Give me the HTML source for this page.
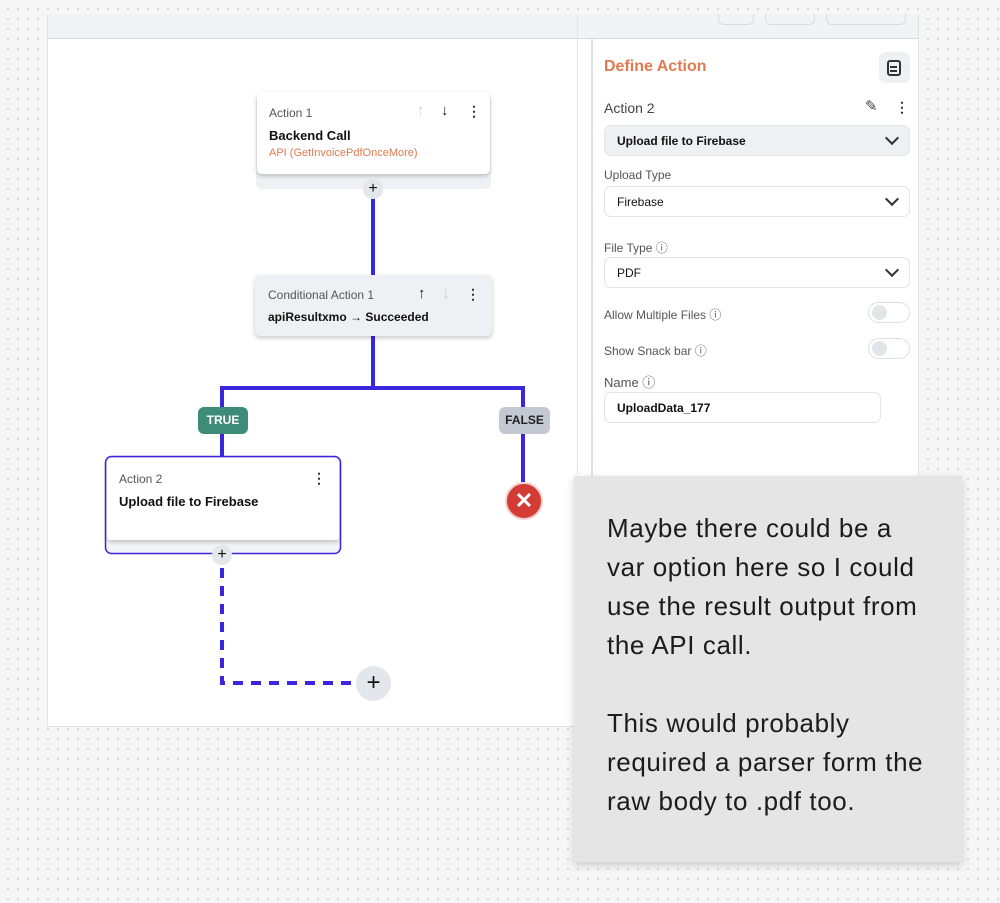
<!DOCTYPE html>
<html><head><meta charset="utf-8"><style>
*{margin:0;padding:0;box-sizing:border-box}
body{width:1000px;height:903px;overflow:hidden;position:relative;font-family:"Liberation Sans",sans-serif;
background-color:#f6f6f6;background-image:radial-gradient(circle,#d6d6d6 1px,transparent 1.3px);background-size:10px 10px;background-position:3px 4px}
.a{position:absolute}
.frame{left:47px;top:15px;width:872px;height:712px;background:#fff;border:1px solid #e3e3e3}
.hdr{left:48px;top:15px;width:870px;height:24px;background:#f1f3f6;border-bottom:1px solid #d8dbe0}
.card{position:absolute;background:#fff;border-radius:5px;box-shadow:0 2px 5px rgba(0,0,0,.22)}
.sm{font-size:12px;color:#555}
.b{font-weight:bold;font-size:13px;color:#111}
.lbl{font-size:12px;color:#555}
.sel{position:absolute;left:604px;width:306px;height:31px;border:1px solid #e2e4e8;border-radius:7px;background:#fff;font-size:12px;color:#111;padding:8px 0 0 12px}
.chev{position:absolute;right:12px;top:7px;width:10px;height:10px;border-right:2px solid #333;border-bottom:2px solid #333;transform:rotate(45deg)}
.tog{position:absolute;left:868px;width:42px;height:21px;border:1px solid #dcdfe3;border-radius:11px;background:#fff}
.tog:after{content:"";position:absolute;left:3px;top:2px;width:15px;height:15px;border-radius:50%;background:#e3e5e9}
.plus{position:absolute;border-radius:50%;background:#e3e6eb;text-align:center;color:#111}
.dots{position:absolute;font-size:14px;font-weight:bold;color:#333;line-height:14px}
</style></head><body>
<div class="a frame"></div>
<div class="a hdr"></div>
<div class="a" style="left:718px;top:14px;width:36px;height:11px;border:1px solid #d8dbe0;border-top:none;border-radius:0 0 6px 6px;background:#f1f3f6"></div>
<div class="a" style="left:765px;top:14px;width:50px;height:11px;border:1px solid #d8dbe0;border-top:none;border-radius:0 0 6px 6px;background:#f1f3f6"></div>
<div class="a" style="left:826px;top:14px;width:80px;height:11px;border:1px solid #d8dbe0;border-top:none;border-radius:0 0 6px 6px;background:#f1f3f6"></div>
<div class="a" style="left:577px;top:15px;width:1px;height:460px;background:#e3e3e3"></div>
<div class="a" style="left:591px;top:39px;width:2px;height:437px;background:#dcdfe3"></div>

<svg class="a" style="left:0;top:0" width="1000" height="903">
<g stroke="#3b26e0" stroke-width="4" fill="none">
<line x1="373" y1="196" x2="373" y2="275"/>
<line x1="373" y1="336" x2="373" y2="388"/>
<polyline points="222,460 222,388 523,388 523,482"/>
<polyline points="222,568 222,683 356,683" stroke-dasharray="10,8"/>
</g>
<rect x="105.5" y="456.5" width="235" height="97" rx="6" fill="#f3f4f7" stroke="#3b26e0" stroke-width="1.5"/>
</svg>

<div class="a" style="left:256px;top:95px;width:235px;height:94px;background:#eef0f4;border-radius:6px"></div>
<div class="card" style="left:257px;top:92px;width:233px;height:82px">
<div class="a sm" style="left:12px;top:14px">Action 1</div>
<div class="a b" style="left:12px;top:36px">Backend Call</div>
<div class="a" style="left:12px;top:55px;font-size:11px;color:#e07a4f">API (GetInvoicePdfOnceMore)</div>
<div class="a" style="left:160px;top:10px;font-size:15px;color:#ccc">↑</div>
<div class="a" style="left:184px;top:10px;font-size:15px;color:#222;font-weight:bold">↓</div>
<div class="dots" style="left:210px;top:12px">⋮</div>
</div>
<div class="plus" style="left:363px;top:179px;width:20px;height:20px;font-size:16px;line-height:20px">+</div>

<div class="card" style="left:255px;top:275px;width:237px;height:61px;background:#eef0f4">
<div class="a sm" style="left:13px;top:13px">Conditional Action 1</div>
<div class="a" style="left:13px;top:35px;font-size:12px;font-weight:bold;color:#111">apiResultxmo → Succeeded</div>
<div class="a" style="left:163px;top:10px;font-size:15px;color:#222;font-weight:bold">↑</div>
<div class="a" style="left:187px;top:10px;font-size:15px;color:#ccc">↓</div>
<div class="dots" style="left:211px;top:12px">⋮</div>
</div>

<div class="a" style="left:198px;top:407px;width:50px;height:27px;background:#3e8b78;border-radius:6px;color:#fff;font-size:12px;font-weight:bold;text-align:center;line-height:27px">TRUE</div>
<div class="a" style="left:499px;top:407px;width:51px;height:27px;background:#c4c9d1;border-radius:6px;color:#222;font-size:12px;font-weight:bold;text-align:center;line-height:27px">FALSE</div>
<div class="a" style="left:505px;top:482px;width:38px;height:38px;border-radius:50%;background:#d33c35;border:2px solid #f3d0cf;color:#fff;text-align:center;font-size:22px;line-height:33px;font-weight:bold">✕</div>

<div class="card" style="left:107px;top:458px;width:232px;height:82px;border-radius:5px 5px 3px 3px">
<div class="a sm" style="left:12px;top:14px">Action 2</div>
<div class="a b" style="left:12px;top:36px">Upload file to Firebase</div>
<div class="dots" style="left:205px;top:13px">⋮</div>
</div>
<div class="plus" style="left:212px;top:545px;width:20px;height:20px;font-size:16px;line-height:20px">+</div>
<div class="plus" style="left:356px;top:666px;width:35px;height:35px;font-size:24px;line-height:34px">+</div>

<div class="a" style="left:604px;top:58px;font-size:16px;font-weight:bold;color:#e07a4f">Define Action</div>
<div class="a" style="left:879px;top:52px;width:31px;height:31px;border-radius:7px;background:#eef0f4"></div>
<div class="a" style="left:887px;top:60px;width:14px;height:16px;border:2px solid #333;border-radius:3px"></div>
<div class="a" style="left:890px;top:66px;width:7px;height:2px;background:#333"></div>
<div class="a" style="left:890px;top:70px;width:7px;height:2px;background:#333"></div>
<div class="a" style="left:604px;top:100px;font-size:14px;color:#444">Action 2</div>
<div class="a" style="left:865px;top:97px;font-size:15px;color:#444">✎</div>
<div class="dots" style="left:895px;top:100px">⋮</div>
<div class="sel" style="top:125px;background:#eef0f4;font-weight:bold;height:31px">Upload file to Firebase<div class="chev"></div></div>
<div class="a lbl" style="left:604px;top:168px">Upload Type</div>
<div class="sel" style="top:186px">Firebase<div class="chev"></div></div>
<div class="a lbl" style="left:604px;top:239px">File Type ⓘ</div>
<div class="sel" style="top:257px">PDF<div class="chev"></div></div>
<div class="a lbl" style="left:604px;top:306px">Allow Multiple Files ⓘ</div>
<div class="tog" style="top:302px"></div>
<div class="a lbl" style="left:604px;top:342px">Show Snack bar ⓘ</div>
<div class="tog" style="top:338px"></div>
<div class="a lbl" style="left:604px;top:372px;font-size:13px">Name ⓘ</div>
<div class="sel" style="top:392px;width:277px;font-weight:bold">UploadData_177</div>

<div class="a" style="left:574px;top:476px;width:388px;height:386px;background:#e5e5e5;box-shadow:0 3px 8px rgba(0,0,0,.18)"></div>
<div class="a" style="left:607px;top:509px;width:350px;font-size:26px;letter-spacing:0.6px;line-height:39px;color:#1c1c1c">Maybe there could be a<br>var option here so I could<br>use the result output from<br>the API call.<br><br>This would probably<br>required a parser form the<br>raw body to .pdf too.</div>
</body></html>
